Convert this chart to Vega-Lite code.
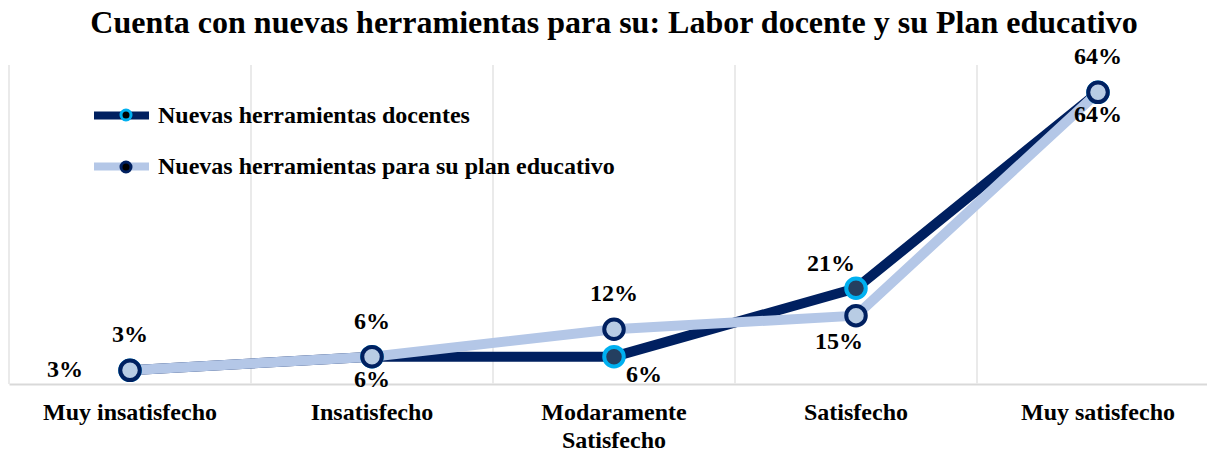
{
  "$schema": "https://vega.github.io/schema/vega-lite/v6.json",
  "width": 1210,
  "height": 319,
  "autosize": {"type": "none"},
  "padding": {"left": 9, "right": -12, "top": 65, "bottom": 68},
  "background": "white",
  "config": {"view": {"stroke": null}, "font": "Liberation Serif"},
  "title": {
    "text": "Cuenta con nuevas herramientas para su: Labor docente y su Plan educativo",
    "font": "Liberation Serif",
    "fontSize": 32,
    "fontWeight": "bold",
    "color": "black",
    "anchor": "middle",
    "offset": 5
  },
  "data": {
    "values": [
      {"c": "Muy insatisfecho", "s": "Nuevas herramientas docentes", "v": 0.03},
      {"c": "Insatisfecho", "s": "Nuevas herramientas docentes", "v": 0.06},
      {"c": "Modaramente Satisfecho", "s": "Nuevas herramientas docentes", "v": 0.06},
      {"c": "Satisfecho", "s": "Nuevas herramientas docentes", "v": 0.21},
      {"c": "Muy satisfecho", "s": "Nuevas herramientas docentes", "v": 0.64},
      {"c": "Muy insatisfecho", "s": "Nuevas herramientas para su plan educativo", "v": 0.03},
      {"c": "Insatisfecho", "s": "Nuevas herramientas para su plan educativo", "v": 0.06},
      {"c": "Modaramente Satisfecho", "s": "Nuevas herramientas para su plan educativo", "v": 0.12},
      {"c": "Satisfecho", "s": "Nuevas herramientas para su plan educativo", "v": 0.15},
      {"c": "Muy satisfecho", "s": "Nuevas herramientas para su plan educativo", "v": 0.64}
    ]
  },
  "encoding": {
    "x": {
      "field": "c",
      "type": "nominal",
      "sort": ["Muy insatisfecho", "Insatisfecho", "Modaramente Satisfecho", "Satisfecho", "Muy satisfecho"],
      "scale": {"type": "band", "paddingInner": 0, "paddingOuter": 0},
      "axis": {
        "title": null,
        "domain": true,
        "domainColor": "#D9D9D9",
        "domainWidth": 2,
        "ticks": false,
        "grid": false,
        "labelAngle": 0,
        "labelFont": "Liberation Serif",
        "labelFontSize": 24,
        "labelFontWeight": "bold",
        "labelColor": "black",
        "labelPadding": 16,
        "labelLineHeight": 28,
        "labelBaseline": "top",
        "labelLimit": 0,
        "labelExpr": "datum.label == 'Modaramente Satisfecho' ? ['Modaramente', 'Satisfecho'] : datum.label"
      }
    },
    "y": {
      "field": "v",
      "type": "quantitative",
      "scale": {"domain": [0, 0.7], "zero": true, "nice": false},
      "axis": null
    }
  },
  "layer": [
    {
      "mark": {"type": "rule", "color": "#E8E8E8", "strokeWidth": 1.5},
      "encoding": {
        "x": {"field": "c", "type": "nominal", "bandPosition": 0, "sort": ["Muy insatisfecho", "Insatisfecho", "Modaramente Satisfecho", "Satisfecho", "Muy satisfecho"]},
        "y": null
      }
    },
    {
      "mark": {"type": "line", "strokeWidth": 10, "strokeJoin": "miter"},
      "encoding": {
        "x": {"field": "c", "type": "nominal", "bandPosition": 0.5, "sort": ["Muy insatisfecho", "Insatisfecho", "Modaramente Satisfecho", "Satisfecho", "Muy satisfecho"]},
        "stroke": {
          "field": "s",
          "type": "nominal",
          "scale": {"domain": ["Nuevas herramientas docentes", "Nuevas herramientas para su plan educativo"], "range": ["#002060", "#B4C7E7"]},
          "legend": {
            "orient": "none", "legendX": 81, "legendY": 19, "direction": "vertical", "title": null,
            "symbolType": "stroke", "symbolSize": 3025, "symbolStrokeWidth": 8,
            "labelFont": "Liberation Serif", "labelFontSize": 24, "labelFontWeight": "bold", "labelColor": "black",
            "rowPadding": 3, "labelOffset": 5, "padding": 0, "labelLimit": 0
          }
        }
      }
    },
    {
      "mark": {"type": "point", "shape": "circle", "filled": true, "size": 380, "strokeWidth": 4, "opacity": 1},
      "encoding": {
        "x": {"field": "c", "type": "nominal", "bandPosition": 0.5, "sort": ["Muy insatisfecho", "Insatisfecho", "Modaramente Satisfecho", "Satisfecho", "Muy satisfecho"]},
        "fill": {
          "field": "s",
          "type": "nominal",
          "scale": {"domain": ["Nuevas herramientas docentes", "Nuevas herramientas para su plan educativo"], "range": ["#243F60", "#B8CCE4"]},
          "legend": {
            "orient": "none", "legendX": 105, "legendY": 38, "direction": "vertical", "title": null,
            "symbolType": "circle", "symbolSize": 100, "symbolStrokeWidth": 3, "symbolOpacity": 1,
            "labelExpr": "' '", "labelFont": "Liberation Serif", "labelFontSize": 24, "labelColor": "transparent",
            "rowPadding": 28, "labelOffset": 2, "padding": 0
          }
        },
        "stroke": {
          "field": "s",
          "type": "nominal",
          "scale": {"domain": ["Nuevas herramientas docentes", "Nuevas herramientas para su plan educativo"], "range": ["#00B0F0", "#002060"]},
          "legend": {
            "orient": "none", "legendX": 105, "legendY": 38, "direction": "vertical", "title": null,
            "symbolType": "circle", "symbolSize": 100, "symbolStrokeWidth": 3, "symbolOpacity": 1,
            "labelExpr": "' '", "labelFont": "Liberation Serif", "labelFontSize": 24, "labelColor": "transparent",
            "rowPadding": 28, "labelOffset": 2, "padding": 0
          }
        }
      }
    },
    {
      "transform": [{"filter": "datum.s == 'Nuevas herramientas para su plan educativo' && datum.c != 'Satisfecho'"}],
      "mark": {"type": "text", "dy": -35, "font": "Liberation Serif", "fontSize": 24, "fontWeight": "bold", "color": "black"},
      "encoding": {"x": {"field": "c", "type": "nominal", "bandPosition": 0.5, "sort": ["Muy insatisfecho", "Insatisfecho", "Modaramente Satisfecho", "Satisfecho", "Muy satisfecho"]}, "text": {"field": "v", "type": "quantitative", "format": ".0%"}}
    },
    {
      "transform": [{"filter": "datum.s == 'Nuevas herramientas para su plan educativo' && datum.c == 'Satisfecho'"}],
      "mark": {"type": "text", "dx": -17, "dy": 26, "font": "Liberation Serif", "fontSize": 24, "fontWeight": "bold", "color": "black"},
      "encoding": {"x": {"field": "c", "type": "nominal", "bandPosition": 0.5, "sort": ["Muy insatisfecho", "Insatisfecho", "Modaramente Satisfecho", "Satisfecho", "Muy satisfecho"]}, "text": {"field": "v", "type": "quantitative", "format": ".0%"}}
    },
    {
      "transform": [{"filter": "datum.s == 'Nuevas herramientas docentes' && datum.c == 'Muy insatisfecho'"}],
      "mark": {"type": "text", "dx": -65, "dy": 0, "font": "Liberation Serif", "fontSize": 24, "fontWeight": "bold", "color": "black"},
      "encoding": {"x": {"field": "c", "type": "nominal", "bandPosition": 0.5, "sort": ["Muy insatisfecho", "Insatisfecho", "Modaramente Satisfecho", "Satisfecho", "Muy satisfecho"]}, "text": {"field": "v", "type": "quantitative", "format": ".0%"}}
    },
    {
      "transform": [{"filter": "datum.s == 'Nuevas herramientas docentes' && (datum.c == 'Insatisfecho' || datum.c == 'Muy satisfecho')"}],
      "mark": {"type": "text", "dy": 23, "font": "Liberation Serif", "fontSize": 24, "fontWeight": "bold", "color": "black"},
      "encoding": {"x": {"field": "c", "type": "nominal", "bandPosition": 0.5, "sort": ["Muy insatisfecho", "Insatisfecho", "Modaramente Satisfecho", "Satisfecho", "Muy satisfecho"]}, "text": {"field": "v", "type": "quantitative", "format": ".0%"}}
    },
    {
      "transform": [{"filter": "datum.s == 'Nuevas herramientas docentes' && datum.c == 'Modaramente Satisfecho'"}],
      "mark": {"type": "text", "dx": 30, "dy": 18, "font": "Liberation Serif", "fontSize": 24, "fontWeight": "bold", "color": "black"},
      "encoding": {"x": {"field": "c", "type": "nominal", "bandPosition": 0.5, "sort": ["Muy insatisfecho", "Insatisfecho", "Modaramente Satisfecho", "Satisfecho", "Muy satisfecho"]}, "text": {"field": "v", "type": "quantitative", "format": ".0%"}}
    },
    {
      "transform": [{"filter": "datum.s == 'Nuevas herramientas docentes' && datum.c == 'Satisfecho'"}],
      "mark": {"type": "text", "dx": -25, "dy": -24, "font": "Liberation Serif", "fontSize": 24, "fontWeight": "bold", "color": "black"},
      "encoding": {"x": {"field": "c", "type": "nominal", "bandPosition": 0.5, "sort": ["Muy insatisfecho", "Insatisfecho", "Modaramente Satisfecho", "Satisfecho", "Muy satisfecho"]}, "text": {"field": "v", "type": "quantitative", "format": ".0%"}}
    }
  ],
  "resolve": {"scale": {"stroke": "independent"}, "legend": {"stroke": "independent"}}
}
